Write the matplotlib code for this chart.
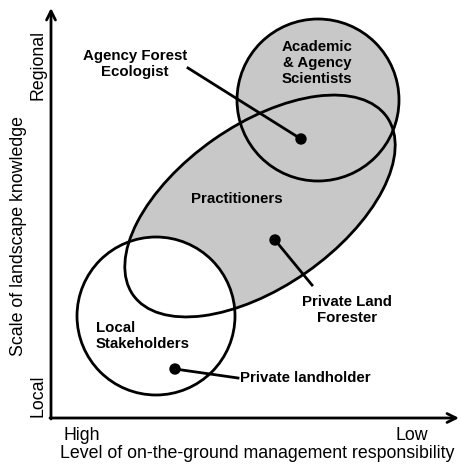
import matplotlib
matplotlib.use("Agg")
import matplotlib.pyplot as plt
from matplotlib.patches import Circle, Ellipse

# groups drawn as shapes (pixel units of the original figure, y going down)
group_names = ["Academic\n& Agency\nScientists", "Practitioners", "Local\nStakeholders"]
group_centers = [(318, 100), (260, 206), (156, 316)]
group_widths = [162, 310, 158]
group_heights = [162, 162, 158]
group_angles = [0, -35, 0]
group_fills = ["#c8c8c8", "#c8c8c8", "white"]
group_label_pos = [(317, 63), (237, 199), (96, 336)]

# individual roles (dot, end of leader line, label)
role_names = ["Agency Forest\nEcologist", "Private Land\nForester", "Private landholder"]
role_dots = [(301, 139), (275, 240), (175, 369)]
role_line_ends = [(188, 68), (312, 285), (238, 378)]
role_label_pos = [(135, 64), (347, 310), (240, 378)]
role_label_ha = ["center", "center", "left"]

x_label = "Level of on-the-ground management responsibility"
y_label = "Scale of landscape knowledge"
x_ticks = ["High", "Low"]
y_ticks = ["Local", "Regional"]

fig = plt.figure(figsize=(4.61, 4.66), dpi=100)
ax = fig.add_axes([0, 0, 1, 1])
ax.set_xlim(0, 461)
ax.set_ylim(466, 0)
ax.axis("off")

lw = 2.0
font = "Liberation Sans"
fs_bold = 10.8
fs_axis = 12.8

# fills first (local circle white on top), outlines afterwards
for c, w, h, a, fc in zip(group_centers, group_widths, group_heights, group_angles, group_fills):
    ax.add_patch(Ellipse(c, w, h, angle=a, facecolor=fc, edgecolor="none", zorder=1))
for c, w, h, a in zip(group_centers, group_widths, group_heights, group_angles):
    ax.add_patch(Ellipse(c, w, h, angle=a, facecolor="none", edgecolor="black", lw=lw, zorder=2))

for name, (x, y) in zip(group_names, group_label_pos):
    ha = "left" if name.startswith("Local") else "center"
    ax.text(x, y, name, ha=ha, va="center", fontsize=fs_bold, fontweight="bold",
            family=font, linespacing=1.2, zorder=5)

for name, dot, end, pos, ha in zip(role_names, role_dots, role_line_ends, role_label_pos, role_label_ha):
    ax.plot([dot[0], end[0]], [dot[1], end[1]], color="black", lw=lw, zorder=3)
    ax.add_patch(Circle(dot, 5, color="black", zorder=4))
    ax.text(pos[0], pos[1], name, ha=ha, va="center", fontsize=fs_bold, fontweight="bold",
            family=font, linespacing=1.2, zorder=5)

# axes with open arrow heads
arrow = dict(arrowstyle="->", lw=lw, color="black", mutation_scale=16, shrinkA=0, shrinkB=0)
ax.annotate("", xy=(51, 8), xytext=(51, 419), arrowprops=arrow)
ax.annotate("", xy=(459, 418), xytext=(50, 418), arrowprops=arrow)

ax.text(82, 435, x_ticks[0], ha="center", va="center", fontsize=fs_axis, family=font)
ax.text(412, 435, x_ticks[1], ha="center", va="center", fontsize=fs_axis, family=font)
ax.text(257, 453, x_label, ha="center", va="center", fontsize=fs_axis, family=font)
ax.text(38, 396, y_ticks[0], ha="center", va="center", fontsize=fs_axis, family=font, rotation=90)
ax.text(38, 65, y_ticks[1], ha="center", va="center", fontsize=fs_axis, family=font, rotation=90)
ax.text(19, 236, y_label, ha="center", va="center", fontsize=fs_axis, family=font, rotation=90)

fig.savefig("out.png", dpi=100)
